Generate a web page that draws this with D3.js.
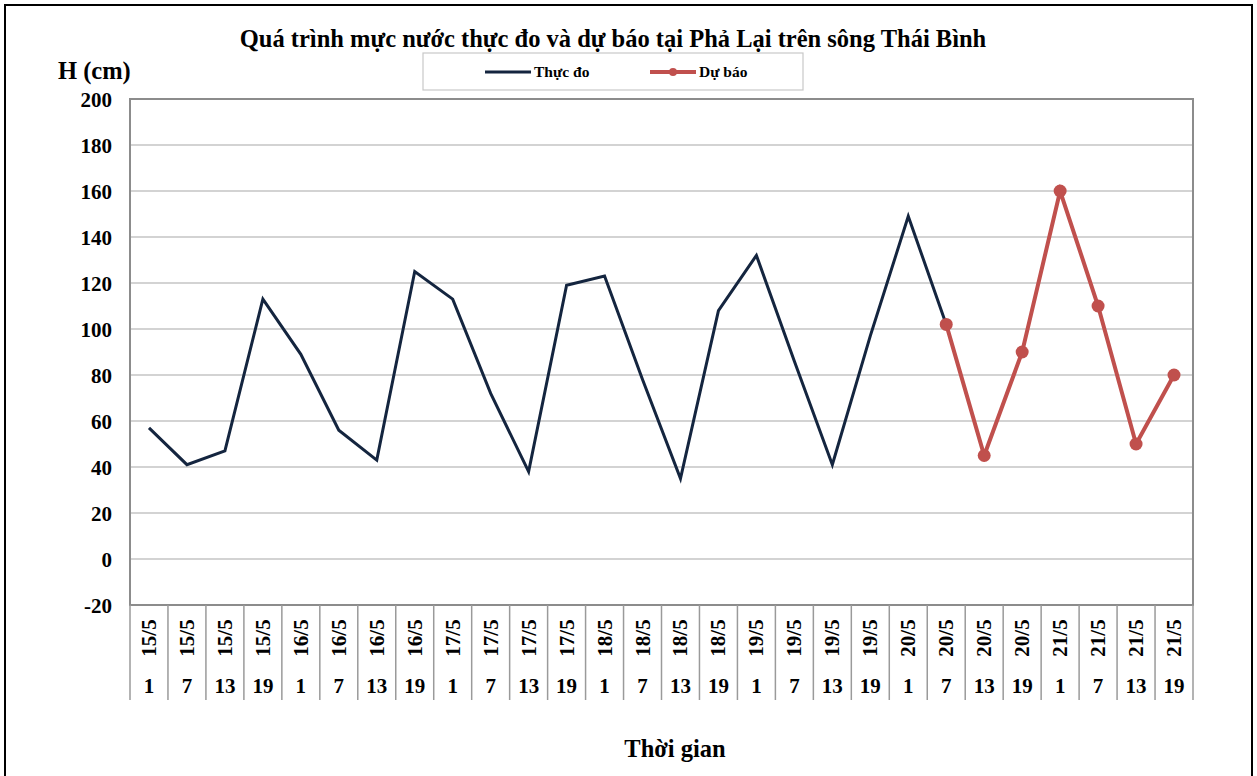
<!DOCTYPE html>
<html>
<head>
<meta charset="utf-8">
<script src="https://cdn.jsdelivr.net/npm/d3@7"></script>
<style>
  body { margin: 0; background: #fff; }
  text { font-family: "Liberation Serif", "Times New Roman", serif; font-weight: bold; fill: #000; }
</style>
</head>
<body>
<div id="chart"></div>
<script>
// ngày và giờ của trục x
var days = ["15/5","15/5","15/5","15/5","16/5","16/5","16/5","16/5","17/5","17/5","17/5","17/5",
  "18/5","18/5","18/5","18/5","19/5","19/5","19/5","19/5","20/5","20/5","20/5","20/5",
  "21/5","21/5","21/5","21/5"];
var hours = ["1","7","13","19","1","7","13","19","1","7","13","19","1","7","13","19",
  "1","7","13","19","1","7","13","19","1","7","13","19"];

// thực đo (null = không có số liệu)
var observed = [57,41,47,113,89,56,43,125,113,72,38,119,123,78,35,108,132,86,41,97,149,102,
  null,null,null,null,null,null];
// dự báo
var forecast = [null,null,null,null,null,null,null,null,null,null,null,null,null,null,null,null,
  null,null,null,null,null,102,45,90,160,110,50,80];

var yTicks = [-20,0,20,40,60,80,100,120,140,160,180,200];

const W = 1257, H = 776;
const pLeft = 130, pRight = 1193, pTop = 99, pBottom = 605;

const svg = d3.select("#chart").append("svg")
  .attr("width", W).attr("height", H);

// khung ngoài
svg.append("rect")
  .attr("x", 5).attr("y", 5).attr("width", 1247).attr("height", 790)
  .style("fill", "none").style("stroke", "#000").style("stroke-width", 2);

var idx = d3.range(days.length);
var x = d3.scaleBand().domain(idx).range([pLeft, pRight]);
var y = d3.scaleLinear().domain([-20, 200]).range([pBottom, pTop]);

// lưới ngang
svg.append("g").selectAll("line")
  .data(yTicks.filter(d => d > -20 && d < 200))
  .enter().append("line")
  .attr("x1", pLeft).attr("x2", pRight)
  .attr("y1", d => y(d)).attr("y2", d => y(d))
  .style("stroke", "#c4c4c4").style("stroke-width", 1.5);

// nhãn trục y
svg.append("g").selectAll("text")
  .data(yTicks)
  .enter().append("text")
  .attr("x", 112).attr("y", d => y(d) + 8)
  .attr("text-anchor", "end")
  .style("font-size", "21px")
  .text(d => d);

// khung vùng vẽ
svg.append("rect")
  .attr("x", pLeft).attr("y", pTop).attr("width", pRight - pLeft).attr("height", pBottom - pTop)
  .style("fill", "none").style("stroke", "#8c8c8c").style("stroke-width", 2);

// trục x nhiều cấp
var xa = svg.append("g");
xa.selectAll("line.sep")
  .data(d3.range(days.length + 1))
  .enter().append("line")
  .attr("class", "sep")
  .attr("x1", i => pLeft + i * x.bandwidth()).attr("x2", i => pLeft + i * x.bandwidth())
  .attr("y1", pBottom).attr("y2", 700)
  .style("stroke", "#9a9a9a").style("stroke-width", 1.5);

xa.selectAll("text.day")
  .data(idx)
  .enter().append("text")
  .attr("class", "day")
  .attr("transform", i => "translate(" + (x(i) + x.bandwidth() / 2 + 7) + ",638) rotate(-90)")
  .attr("text-anchor", "middle")
  .style("font-size", "21px")
  .text(i => days[i]);

xa.selectAll("text.hour")
  .data(idx)
  .enter().append("text")
  .attr("class", "hour")
  .attr("x", i => x(i) + x.bandwidth() / 2)
  .attr("y", 693)
  .attr("text-anchor", "middle")
  .style("font-size", "21px")
  .text(i => hours[i]);

var line = d3.line()
  .defined(d => d.v != null)
  .x(d => x(d.i) + x.bandwidth() / 2)
  .y(d => y(d.v));

var obsData = observed.map((v, i) => ({i: i, v: v}));
var fcData = forecast.map((v, i) => ({i: i, v: v}));

svg.append("path")
  .datum(obsData)
  .attr("d", line)
  .style("fill", "none").style("stroke", "#14253f").style("stroke-width", 3);

svg.append("path")
  .datum(fcData)
  .attr("d", line)
  .style("fill", "none").style("stroke", "#c0504d").style("stroke-width", 4);

svg.append("g").selectAll("circle")
  .data(fcData.filter(d => d.v != null))
  .enter().append("circle")
  .attr("cx", d => x(d.i) + x.bandwidth() / 2)
  .attr("cy", d => y(d.v))
  .attr("r", 6.5)
  .style("fill", "#c0504d");

// tiêu đề
svg.append("text")
  .attr("x", 613).attr("y", 47)
  .attr("text-anchor", "middle")
  .style("font-size", "24.5px")
  .text("Quá trình mực nước thực đo và dự báo tại Phả Lại trên sông Thái Bình");

svg.append("text")
  .attr("x", 58).attr("y", 79)
  .style("font-size", "24.5px")
  .text("H (cm)");

svg.append("text")
  .attr("x", 675).attr("y", 757)
  .attr("text-anchor", "middle")
  .style("font-size", "24.5px")
  .text("Thời gian");

// chú giải
var lg = svg.append("g");
lg.append("rect")
  .attr("x", 423).attr("y", 53).attr("width", 380).attr("height", 37)
  .style("fill", "#fff").style("stroke", "#c8c8c8").style("stroke-width", 1.2);
lg.append("line")
  .attr("x1", 485).attr("x2", 531).attr("y1", 72).attr("y2", 72)
  .style("stroke", "#14253f").style("stroke-width", 3);
lg.append("text")
  .attr("x", 534).attr("y", 77)
  .style("font-size", "15.5px")
  .text("Thực đo");
lg.append("line")
  .attr("x1", 650).attr("x2", 696).attr("y1", 72).attr("y2", 72)
  .style("stroke", "#c0504d").style("stroke-width", 4);
lg.append("circle")
  .attr("cx", 673).attr("cy", 72).attr("r", 4)
  .style("fill", "#c0504d");
lg.append("text")
  .attr("x", 699).attr("y", 77)
  .style("font-size", "15.5px")
  .text("Dự báo");
</script>
</body>
</html>
